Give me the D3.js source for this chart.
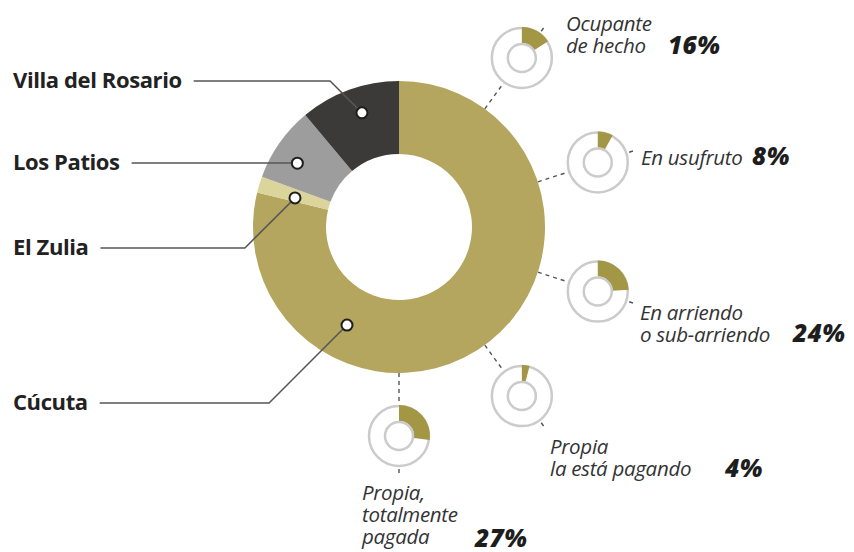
<!DOCTYPE html>
<html>
<head>
<meta charset="utf-8">
<script src="https://cdn.jsdelivr.net/npm/d3@7"></script>
<style>
  body { margin: 0; background: #fff; }
  text { font-family: "Open Sans", Lato, sans-serif; }
</style>
</head>
<body>
<svg id="chart" width="854" height="552"></svg>
<script>
// municipios del anillo principal (% aproximado)
const municipios = ["Cúcuta", "El Zulia", "Los Patios", "Villa del Rosario"]
const municipioPct = [78.8, 1.8, 8.3, 11.1]
const municipioColor = ["#b4a65e", "#dbd49b", "#9d9d9e", "#3c3a38"]

// tenencia de la vivienda (anillos pequeños)
const tenenciaTexto = [
  ["Ocupante", "de hecho"],
  ["En usufruto"],
  ["En arriendo", "o sub-arriendo"],
  ["Propia", "la está pagando"],
  ["Propia,", "totalmente", "pagada"]
]
const tenenciaPct = [16, 8, 24, 4, 27]

// layout
const cx = 399, cy = 227, rOut = 146, rIn = 73
const svg = d3.select("#chart")
const g = svg.append("g").attr("transform", "translate(" + cx + "," + cy + ")")

const pie = d3.pie().sort(null).value(d => d)
const arcs = pie(municipioPct)
const arc = d3.arc().innerRadius(rIn).outerRadius(rOut)

// dashed radial guides to the small donuts (behind everything)
const smallDist = 209, smallR = 30
const ang = d3.scaleLinear().domain([0, tenenciaPct.length]).range([Math.PI / 5, Math.PI * 6 / 5])
const polar = (a, r) => [r * Math.sin(a), -r * Math.cos(a)]

g.selectAll("line.guide")
  .data(tenenciaPct)
  .enter().append("line")
  .attr("class", "guide")
  .attr("x1", (d, i) => polar(ang(i), rOut)[0])
  .attr("y1", (d, i) => polar(ang(i), rOut)[1])
  .attr("x2", (d, i) => polar(ang(i), smallDist + smallR + 9)[0])
  .attr("y2", (d, i) => polar(ang(i), smallDist + smallR + 9)[1])
  .attr("stroke", "#555")
  .attr("stroke-width", 1.4)
  .attr("stroke-dasharray", "4,4")

// main donut
g.selectAll("path.slice")
  .data(arcs)
  .enter().append("path")
  .attr("class", "slice")
  .attr("d", arc)
  .attr("fill", (d, i) => municipioColor[i])

// small donuts
const small = g.selectAll("g.small")
  .data(tenenciaPct)
  .enter().append("g")
  .attr("class", "small")
  .attr("transform", (d, i) => "translate(" + polar(ang(i), smallDist) + ")")

small.append("circle")
  .attr("r", smallR)
  .attr("fill", "#fff")
  .attr("stroke", "#cbcbcb")
  .attr("stroke-width", 2.5)

small.append("path")
  .attr("d", d => d3.arc().innerRadius(15).outerRadius(smallR + 1)
    .startAngle(0).endAngle(2 * Math.PI * d / 100)())
  .attr("fill", "#a39645")

small.append("circle")
  .attr("r", 14)
  .attr("fill", "#fff")
  .attr("stroke", "#cbcbcb")
  .attr("stroke-width", 2.5)

// labels for the small donuts
const tenLayout = [
  {x: 566, y: 31, px: 668, py: 54},
  {x: 641, y: 165, px: 752, py: 165},
  {x: 640, y: 320, px: 793, py: 342},
  {x: 550, y: 454, px: 725, py: 477},
  {x: 362, y: 500, px: 475, py: 547}
]

tenenciaTexto.forEach((lines, i) => {
  const L = tenLayout[i]
  const t = svg.append("text")
    .attr("x", L.x).attr("y", L.y)
    .attr("font-size", 20.5)
    .attr("font-style", "italic")
    .attr("letter-spacing", -0.3)
    .attr("fill", "#333")
  lines.forEach((s, j) => {
    t.append("tspan").attr("x", L.x).attr("dy", j === 0 ? 0 : 22).text(s)
  })
  svg.append("text")
    .attr("x", L.px).attr("y", L.py)
    .attr("font-size", 24.5)
    .attr("font-style", "italic")
    .attr("font-weight", 800)
    .attr("letter-spacing", 0.3)
    .attr("fill", "#1d1d1d")
    .text(tenenciaPct[i] + "%")
})

// municipio labels with leader lines
const munLayout = [
  {y: 403, frac: 0.733, r: 111},
  {y: 248, frac: 0.30, r: 108},
  {y: 163, frac: 0.40, r: 120},
  {y: 81, frac: 0.55, r: 120}
]

municipios.forEach((name, i) => {
  const L = munLayout[i]
  const a = arcs[i].startAngle + L.frac * (arcs[i].endAngle - arcs[i].startAngle)
  const p = polar(a, L.r)
  const dx = cx + p[0], dy = cy + p[1]

  const label = svg.append("text")
    .attr("x", 13).attr("y", L.y + 6.5)
    .attr("font-size", 22)
    .attr("font-weight", 700)
    .attr("letter-spacing", -0.4)
    .attr("fill", "#222")
    .text(name)
  const w = label.node().getComputedTextLength()

  const corner = dx - Math.abs(dy - L.y)
  svg.append("polyline")
    .attr("points", [[13 + w + 12, L.y], [corner, L.y], [dx, dy]].join(" "))
    .attr("fill", "none")
    .attr("stroke", "#555")
    .attr("stroke-width", 1.5)

  svg.append("circle")
    .attr("cx", dx).attr("cy", dy)
    .attr("r", 5.5)
    .attr("fill", "#fff")
    .attr("stroke", "#1e1e1e")
    .attr("stroke-width", 2)
})
</script>
</body>
</html>
